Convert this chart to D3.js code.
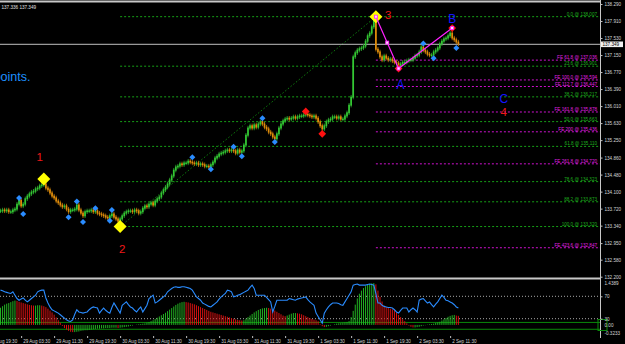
<!DOCTYPE html>
<html>
<head>
  <title>USDJPY-style chart, M30</title>
  <style>
    body { margin: 0; background: #000; }
    svg { display: block; }
    text { font-family: 'Liberation Sans', Arial, sans-serif; }
    .axis text { fill: #d4d4d4; font-size: 4.6px; }
    .axis line { stroke: #c0c0c0; }
    .axis path { display: none; }
  </style>
</head>
<body>
  <svg id="chart" width="625" height="344"></svg>

  <script src="https://d3js.org/d3.v7.min.js"></script>
  <script>
    // Close of every 30-minute bar, starting 28 Aug 22:30
    const closes = [
      133.67,133.69,133.67,133.69,133.65,133.65,133.69,133.71,133.82,133.91,
      133.78,133.82,133.94,134.00,134.05,134.09,134.11,134.16,134.18,134.23,
      134.25,134.27,134.18,134.14,134.07,134.00,133.96,133.89,133.85,133.80,
      133.76,133.78,133.71,133.65,133.69,133.69,133.71,133.80,133.69,133.62,
      133.56,133.65,133.67,133.67,133.69,133.65,133.67,133.62,133.60,133.58,
      133.56,133.53,133.51,133.56,133.60,133.53,133.49,133.44,133.49,133.56,
      133.62,133.65,133.67,133.67,133.65,133.69,133.67,133.62,133.65,133.73,
      133.78,133.76,133.82,133.85,133.80,133.89,133.94,133.98,134.07,134.14,
      134.20,134.27,134.36,134.45,134.58,134.65,134.67,134.72,134.70,134.74,
      134.74,134.78,134.76,134.74,134.72,134.74,134.70,134.72,134.70,134.67,
      134.67,134.65,134.70,134.76,134.85,134.89,134.94,134.96,134.98,135.01,
      135.03,135.01,135.03,135.01,134.96,135.03,134.98,135.01,135.14,135.36,
      135.52,135.57,135.52,135.59,135.54,135.61,135.66,135.61,135.54,135.50,
      135.43,135.39,135.32,135.28,135.39,135.52,135.61,135.68,135.72,135.74,
      135.72,135.74,135.77,135.74,135.77,135.79,135.79,135.81,135.83,135.81,
      135.79,135.77,135.79,135.74,135.66,135.57,135.50,135.57,135.66,135.70,
      135.72,135.77,135.77,135.74,135.77,135.72,135.72,135.79,135.86,136.03,
      136.21,137.11,137.20,137.26,137.29,137.31,137.35,137.46,137.58,137.64,
      137.78,137.93,137.28,137.22,137.11,137.04,137.13,137.08,137.04,137.06,
      137.02,136.99,136.97,136.90,136.95,136.99,136.99,137.02,137.04,137.04,
      137.08,137.13,137.15,137.22,137.33,137.26,137.22,137.17,137.15,137.15,
      137.22,137.26,137.31,137.40,137.46,137.51,137.53,137.58,137.64,137.53,
      137.49,137.44,137.40
    ];

    const rsi = [
      81,80,78,77,76,75,78,72,66,63, 65,67,63,60,63,66,69,72,78,80,
      81,81,67,58,51,46,44,42,40,37, 34,31,28,26,25,28,38,46,42,41,
      40,41,42,46,49,51,50,49,40,45, 49,45,42,40,50,58,52,46,40,54,
      57,60,55,51,49,45,42,47,51,42, 48,54,66,69,72,58,60,63,66,69,
      72,78,81,84,86,87,86,86,87,87, 86,85,84,81,75,69,66,63,58,56,
      54,52,51,54,57,60,65,69,72,75, 81,80,78,69,70,72,73,75,77,79,
      81,86,90,84,72,72,72,72,72,68, 64,60,42,52,63,63,63,63,63,63,
      66,65,64,63,65,66,67,68,69,64, 60,57,54,40,34,28,22,40,46,51,
      55,58,58,58,57,55,54,60,66,72, 78,90,91,92,90,90,90,90,91,92,
      91,90,75,58,58,54,52,51,50,50, 49,46,42,40,45,49,49,49,42,46,
      49,46,42,63,65,66,62,58,60,55, 51,56,60,66,72,68,63,62,60,58,
      55,51,49
    ];

    const hist = [
      0.55,0.60,0.65,0.68,0.70,0.73,0.76,0.78,0.77,0.74,
      0.72,0.70,0.68,0.66,0.64,0.63,0.62,0.62,0.63,0.63,
      0.62,0.60,0.57,0.52,0.46,0.40,0.33,0.24,0.15,0.07,
      -0.03,-0.10,-0.15,-0.19,-0.22,-0.23,-0.23,-0.22,-0.21,-0.19,
      -0.18,-0.17,-0.17,-0.16,-0.15,-0.14,-0.13,-0.12,-0.12,-0.11,
      -0.11,-0.10,-0.10,-0.10,-0.09,-0.09,-0.09,-0.10,-0.09,-0.08,
      -0.07,-0.06,-0.05,-0.03,-0.02,0.00,0.01,0.02,0.03,0.04,
      0.05,0.07,0.09,0.12,0.15,0.19,0.23,0.27,0.31,0.35,
      0.39,0.44,0.49,0.54,0.59,0.64,0.68,0.71,0.73,0.74,
      0.73,0.72,0.70,0.68,0.66,0.63,0.60,0.57,0.54,0.51,
      0.48,0.45,0.42,0.40,0.38,0.36,0.34,0.32,0.30,0.28,
      0.26,0.24,0.22,0.20,0.18,0.16,0.15,0.14,0.15,0.20,
      0.25,0.30,0.35,0.40,0.44,0.48,0.51,0.53,0.54,0.55,
      0.54,0.52,0.49,0.46,0.42,0.38,0.34,0.30,0.28,0.30,
      0.33,0.36,0.38,0.38,0.37,0.36,0.34,0.31,0.28,0.25,
      0.22,0.19,0.17,0.15,0.12,0.02,-0.04,-0.07,-0.06,-0.04,
      -0.02,0.00,0.02,0.04,0.05,0.06,0.07,0.08,0.09,0.12,
      0.25,0.45,0.65,0.85,1.00,1.10,1.18,1.24,1.28,1.31,
      1.33,1.34,1.30,1.10,0.90,0.75,0.62,0.57,0.55,0.52,
      0.50,0.48,0.40,0.32,0.25,0.18,0.12,0.05,-0.02,-0.06,
      -0.08,-0.08,-0.07,-0.06,-0.04,-0.02,-0.01,0.01,0.02,0.03,
      0.04,0.06,0.08,0.10,0.14,0.18,0.22,0.26,0.29,0.31,
      0.32,0.30,0.29
    ];

    // markers: [bar index, price]
    const upFractals = [[9,133.96],[37,133.88],[46,133.73],[54,133.69],[93,134.87],[113,135.10],[127,135.74],[205,137.41]];
    const downFractals = [[11,133.60],[33,133.53],[40,133.42],[53,133.45],[102,134.60],[117,134.89],[133,135.21],[210,137.08],[221,137.31]];
    const pivots = [[148,135.89],[156,135.39],[193,136.849],[219,137.752]];
    const wavePoints = [[21,134.38],[58,133.32],[182,138.007]];
    const zigzag = [[182,138.007],[193,136.849],[219,137.752]];

    const waveNumbers = [["1",19,134.87],["2",59,132.82],["3",188,138.04],["4",244,135.87]];
    const waveLetters = [["A",194,136.48],["B",219,137.95],["C",244,136.16]];

    const fibHigh = 138.007, fibLow = 133.320;
    const fibRatios = ["0.0","23.6","38.2","50.0","61.8","78.6","88.2","100.0"];
    const pointA = 136.849, pointB = 137.752;
    const feRatios = ["61.8","100.0","112.7","161.8","200","261.8","423.6"];

    const priceTicks = [138.290,137.910,137.530,137.150,136.770,136.390,136.010,135.630,135.250,
                        134.860,134.480,134.100,133.720,133.340,132.950,132.580,132.200];
    const rsiTicks = [70, 30];
    const histTicks = [1.4389, 0, -0.3233];
    const histLevels = [0.08, -0.14];
    const dateTicks = ["2016-08-28T19:30Z","2016-08-29T03:30Z","2016-08-29T11:30Z","2016-08-29T19:30Z",
                       "2016-08-30T03:30Z","2016-08-30T11:30Z","2016-08-30T19:30Z","2016-08-31T03:30Z",
                       "2016-08-31T11:30Z","2016-08-31T19:30Z","2016-09-01T03:30Z","2016-09-01T11:30Z",
                       "2016-09-01T19:30Z","2016-09-02T03:30Z","2016-09-02T11:30Z"];
    const bidPrice = 137.39, bidLabel = "137.349";
    const infoText = "137.336 137.349";

    const svg = d3.select("#chart");
    svg.append("rect").attr("width", 625).attr("height", 344).attr("fill", "#000");

    const n = closes.length;
    const t0 = Date.UTC(2016, 7, 28, 22, 30);
    const barTime = i => new Date(t0 + i * 30 * 60000);
    const x = d3.scaleUtc().domain([barTime(0), barTime(n - 1)]).range([0.5, 0.5 + (n - 1) * 2.0625]);
    const xi = i => x(barTime(i));
    const y = d3.scaleLinear().domain([132.2, 138.29]).range([276.7, 4]);
    const rsiY = d3.scaleLinear().domain([0, 100]).range([335.5, 279.5]);
    const histY = d3.scaleLinear().domain([-0.3233, 1.4389]).range([335, 280]);

    const defs = svg.append("defs");
    defs.append("clipPath").attr("id", "mainClip").append("rect").attr("x", 0).attr("y", 3).attr("width", 600).attr("height", 274.5);
    defs.append("clipPath").attr("id", "subClip").append("rect").attr("x", 0).attr("y", 280).attr("width", 600).attr("height", 56);

    const main = svg.append("g").attr("clip-path", "url(#mainClip)");

    // fibonacci retracement 3 -> 2
    const x2 = xi(wavePoints[1][0]);
    fibRatios.forEach(r => {
      const p = fibHigh - (+r / 100) * (fibHigh - fibLow);
      main.append("line").attr("x1", x2).attr("x2", 600).attr("y1", y(p)).attr("y2", y(p))
        .attr("stroke", "#16a016").attr("stroke-dasharray", "2,2");
      main.append("text").attr("x", 597).attr("y", y(p) - 1).attr("text-anchor", "end")
        .attr("font-size", "4.6px").attr("fill", "#1fae1f").text(`${r} @ ${p.toFixed(3)}`);
    });

    // fibonacci expansion from B
    const x3 = xi(zigzag[0][0]);
    feRatios.forEach(r => {
      const p = pointB - (+r / 100) * (fibHigh - pointA);
      main.append("line").attr("x1", x3).attr("x2", 600).attr("y1", y(p)).attr("y2", y(p))
        .attr("stroke", "#d010d0").attr("stroke-dasharray", "2,2");
      main.append("text").attr("x", 597).attr("y", y(p) - 1).attr("text-anchor", "end")
        .attr("font-size", "4.6px").attr("fill", "#e020e0").text(`FE ${r} @ ${p.toFixed(3)}`);
    });

    // dotted trend line 2 -> 3
    main.append("line")
      .attr("x1", xi(wavePoints[1][0])).attr("y1", y(wavePoints[1][1]))
      .attr("x2", xi(wavePoints[2][0])).attr("y2", y(wavePoints[2][1]))
      .attr("stroke", "#0d7a0d").attr("stroke-dasharray", "1.5,2");

    // bid line
    main.append("line").attr("x1", 0).attr("x2", 600).attr("y1", y(bidPrice)).attr("y2", y(bidPrice))
      .attr("stroke", "#c0c0c0");

    // candles
    const bars = closes.map((c, i) => ({ i, o: i ? closes[i - 1] : c, c }));
    const candle = main.selectAll("g.bar").data(bars).enter().append("g")
      .attr("fill", d => d.c >= d.o ? "#33c833" : "#e08c0a")
      .attr("stroke", d => d.c >= d.o ? "#2a9a2a" : "#b0700a");
    candle.append("line")
      .attr("x1", d => xi(d.i)).attr("x2", d => xi(d.i))
      .attr("y1", d => y(Math.max(d.o, d.c)) - 2.2)
      .attr("y2", d => y(Math.min(d.o, d.c)) + 2.2)
      .attr("stroke-width", 0.9);
    candle.append("rect")
      .attr("x", d => xi(d.i) - 0.85).attr("width", 1.7)
      .attr("y", d => y(Math.max(d.o, d.c)) - 0.5)
      .attr("height", d => Math.max(1.5, y(Math.min(d.o, d.c)) - y(Math.max(d.o, d.c)) + 1))
      .attr("stroke", "none");

    // markers
    const diamond = (sel, data, size, color) => sel.selectAll(null).data(data).enter().append("path")
      .attr("d", d3.symbol(d3.symbolSquare, size))
      .attr("transform", d => `translate(${xi(d[0])},${y(d[1])}) rotate(45)`)
      .attr("fill", color);
    diamond(main, upFractals, 18, "#2a8cff");
    diamond(main, downFractals, 18, "#2a8cff");
    diamond(main, pivots, 30, "#ff1010");
    diamond(main, wavePoints, 85, "#ffff00");

    // zigzag 3-A-B
    main.append("path")
      .attr("d", d3.line().x(d => xi(d[0])).y(d => y(d[1]))(zigzag))
      .attr("fill", "none").attr("stroke", "#ff20ff").attr("stroke-width", 1.2);
    const zzMid = [(zigzag[0][0] + zigzag[1][0]) / 2, (zigzag[0][1] + zigzag[1][1]) / 2];
    main.selectAll(null).data(zigzag.concat([zzMid])).enter().append("rect")
      .attr("x", d => xi(d[0]) - 1.5).attr("y", d => y(d[1]) - 1.5)
      .attr("width", 3).attr("height", 3)
      .attr("fill", "#ffd8ff").attr("stroke", "#ff20ff").attr("stroke-width", 0.8);

    // wave labels
    main.selectAll(null).data(waveNumbers).enter().append("text")
      .attr("x", d => xi(d[1])).attr("y", d => y(d[2]))
      .attr("text-anchor", "middle").attr("dominant-baseline", "central")
      .attr("font-size", "11.5px").attr("fill", "#f01818").text(d => d[0]);
    main.selectAll(null).data(waveLetters).enter().append("text")
      .attr("x", d => xi(d[1])).attr("y", d => y(d[2]))
      .attr("text-anchor", "middle").attr("dominant-baseline", "central")
      .attr("font-size", "12px").attr("fill", "#1414ff").text(d => d[0]);

    // comment text, cut at the left edge as in the terminal
    svg.append("text").attr("x", 30.5).attr("y", 81).attr("text-anchor", "end")
      .attr("font-size", "12.5px").attr("fill", "#1e90ff").text("points.");
    svg.append("text").attr("x", 1.5).attr("y", 8.5)
      .attr("font-size", "4.6px").attr("fill", "#e0e0e0").text(infoText);

    // indicator window
    const sub = svg.append("g").attr("clip-path", "url(#subClip)");
    histLevels.forEach(v => {
      sub.append("line").attr("x1", 0).attr("x2", 600).attr("y1", histY(v)).attr("y2", histY(v))
        .attr("stroke", "#0a8a0a");
    });
    rsiTicks.forEach(v => {
      sub.append("line").attr("x1", 0).attr("x2", 600).attr("y1", rsiY(v)).attr("y2", rsiY(v))
        .attr("stroke", "#a8a8a8").attr("stroke-dasharray", "1,2");
    });
    sub.selectAll(null).data(hist).enter().append("rect")
      .attr("x", (d, i) => xi(i) - 0.5).attr("width", 1)
      .attr("y", d => histY(Math.max(0, d)))
      .attr("height", d => Math.abs(histY(d) - histY(0)))
      .attr("fill", (d, i) => i && d < hist[i - 1] ? "#d41010" : "#22b022");
    sub.append("path")
      .attr("d", d3.line().x((d, i) => xi(i)).y(d => rsiY(d))(rsi))
      .attr("fill", "none").attr("stroke", "#2a8cff").attr("stroke-width", 1.1);

    // frame lines
    svg.append("line").attr("x1", 0).attr("x2", 600).attr("y1", 1.5).attr("y2", 1.5).attr("stroke", "#c8c8c8").attr("stroke-width", 2);
    svg.append("line").attr("x1", 0).attr("x2", 600).attr("y1", 278.5).attr("y2", 278.5).attr("stroke", "#c8c8c8").attr("stroke-width", 2);
    svg.append("line").attr("x1", 600.5).attr("x2", 600.5).attr("y1", 0).attr("y2", 338).attr("stroke", "#c8c8c8");
    svg.append("rect").attr("x", 598).attr("y", 319.5).attr("width", 9).attr("height", 11)
      .attr("fill", "none").attr("stroke", "#0a8a0a");

    // price axis
    svg.append("g").attr("class", "axis").attr("transform", "translate(600.5,0)")
      .call(d3.axisRight(y).tickValues(priceTicks).tickSize(2).tickPadding(2).tickFormat(d3.format(".3f")));

    // bid label
    svg.append("rect").attr("x", 601).attr("y", y(bidPrice) - 2.8).attr("width", 22).attr("height", 5.6).attr("fill", "#f0f0f0");
    svg.append("text").attr("x", 602.5).attr("y", y(bidPrice)).attr("dy", "0.33em")
      .attr("font-size", "4.6px").attr("fill", "#000").text(bidLabel);

    // indicator axes
    svg.append("g").attr("class", "axis").attr("transform", "translate(600.5,0)")
      .call(d3.axisRight(rsiY).tickValues(rsiTicks).tickSize(2).tickPadding(2));
    const hAxis = svg.append("g").attr("class", "axis").attr("transform", "translate(600.5,0)")
      .call(d3.axisRight(histY).tickValues(histTicks).tickSize(0).tickPadding(4)
        .tickFormat(d => d === 0 ? "0.00" : d.toFixed(4)));
    hAxis.selectAll("text").attr("dy", d => d > 1 ? "0.9em" : d < 0 ? "-0.1em" : "0.33em");

    // time axis
    const tAxis = svg.append("g").attr("class", "axis").attr("transform", "translate(0,336)")
      .call(d3.axisBottom(x).tickValues(dateTicks.map(s => new Date(s))).tickSize(2)
        .tickFormat(d3.utcFormat("%-d %b %H:%M")));
    tAxis.selectAll("text").attr("text-anchor", "start").attr("x", 1.5).attr("y", 7).attr("dy", 0);
  </script>
</body>
</html>
